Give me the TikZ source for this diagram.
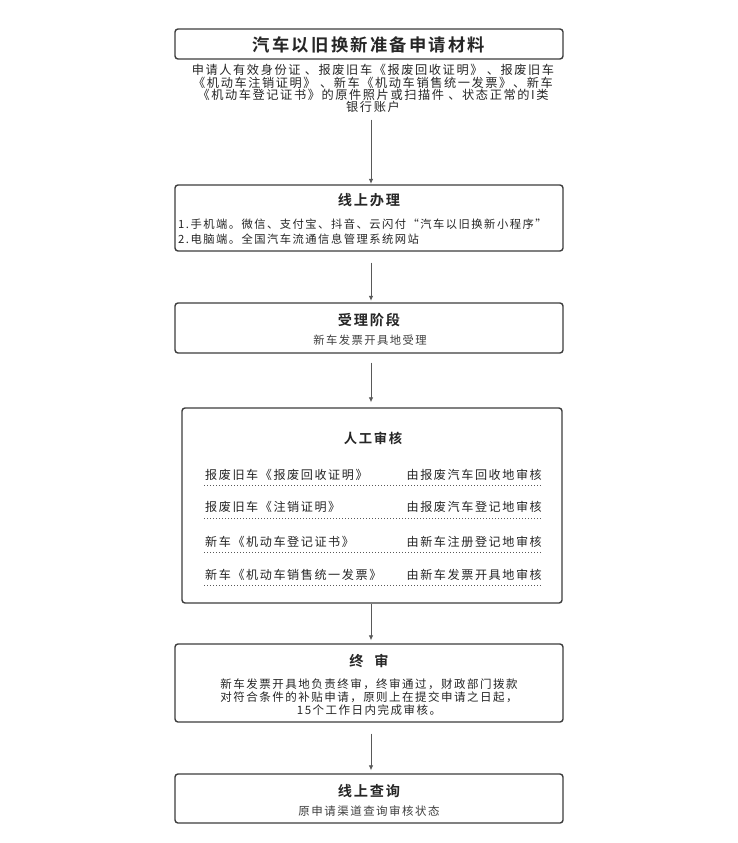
\documentclass[tikz,border=0pt]{standalone}
\usepackage{fontspec}
\setmainfont{Noto Sans CJK SC}[LetterSpace=13, BoldFont={Noto Sans CJK SC Bold}]
\usepackage{tikz}
\usetikzlibrary{arrows.meta}
\definecolor{edge}{HTML}{3D3D3D}
\definecolor{ink}{HTML}{262626}
\definecolor{soft}{HTML}{404040}
\definecolor{wire}{HTML}{595959}
\newcommand\fsz[2]{\fontsize{#1}{#2}\selectfont}

\begin{document}
\begin{tikzpicture}[x=1pt, y=-1pt, every node/.style={inner sep=0pt, text=ink}, >={Latex[length=5pt, width=4.5pt]},
	stage/.style={draw=edge, line width=1.4pt, rounded corners=3pt, minimum width=388pt},
	head/.style={font=\bfseries\fsz{14.2}{15}},
	flow/.style={->, wire, line width=0.8pt},
	dots/.style={wire, line width=0.9pt, dash pattern=on 1.2pt off 1.8pt}]
	\fill[white] (0,0) rectangle (737,843);
	\useasboundingbox (0,0) rectangle (737,843);
	\coordinate (spine) at (371,0);
	\node[stage, minimum height=30pt] (prep) at (369,44) {};
	\node[stage, minimum height=66pt] (online) at (369,218) {};
	\node[stage, minimum height=50pt] (accept) at (369,328) {};
	\node[stage, minimum width=380pt, minimum height=195pt] (manual) at (372,505.5) {};
	\node[stage, minimum height=78pt] (final) at (369,683) {};
	\node[stage, minimum height=49pt] (query) at (369,798.5) {};
	\node[font=\bfseries\fsz{17.3}{18}] (prept) at (369,45) {汽车以旧换新准备申请材料};
	\node[font=\fsz{12.2}{12.4}, align=center] (needs) at (373,88.7) {申请人有效身份证 、报废旧车《报废回收证明》 、报废旧车\\《机动车注销证明》 、新车《机动车销售统一发票》、新车\\《机动车登记证书》的原件照片或扫描件 、状态正常的I类\\银行账户};
	\node[head] (onlinet) at (369,200) {线上办理};
	\node[font=\fsz{11.3}{14.5}, align=left, anchor=west] (channels) at (178,231.5) {1.手机端。微信、支付宝、抖音、云闪付“汽车以旧换新小程序”\\2.电脑端。全国汽车流通信息管理系统网站};
	\node[head] (acceptt) at (369,320) {受理阶段};
	\node[font=\fsz{11.3}{12}, text=soft] (acceptd) at (370,340) {新车发票开具地受理};
	\node[font=\bfseries\fsz{13.3}{14}] (manualt) at (373,438) {人工审核};
	\node[font=\fsz{12.1}{13}, anchor=west] (row1l) at (205,475) {报废旧车《报废回收证明》};
	\node[font=\fsz{12.1}{13}, anchor=east] (row1r) at (542,475) {由报废汽车回收地审核};
	\node[font=\fsz{12.1}{13}, anchor=west] (row2l) at (205,507) {报废旧车《注销证明》};
	\node[font=\fsz{12.1}{13}, anchor=east] (row2r) at (542,507) {由报废汽车登记地审核};
	\node[font=\fsz{12.1}{13}, anchor=west] (row3l) at (205,542) {新车《机动车登记证书》};
	\node[font=\fsz{12.1}{13}, anchor=east] (row3r) at (542,542) {由新车注册登记地审核};
	\node[font=\fsz{12.1}{13}, anchor=west] (row4l) at (205,575) {新车《机动车销售统一发票》};
	\node[font=\fsz{12.1}{13}, anchor=east] (row4r) at (542,575) {由新车发票开具地审核};
	\draw[dots] (204,485) -- (541,485);
	\draw[dots] (204,518) -- (541,518);
	\draw[dots] (204,552) -- (541,552);
	\draw[dots] (204,585) -- (541,585);
	\node[head] (finalt) at (369,661) {终\hspace{11pt}审};
	\node[font=\fsz{11.5}{13.3}, align=center] (finald) at (369,697) {新车发票开具地负责终审，终审通过，财政部门拨款\\对符合条件的补贴申请，原则上在提交申请之日起，\\15个工作日内完成审核。};
	\node[head] (queryt) at (369,791) {线上查询};
	\node[font=\fsz{11.5}{12}, text=soft] (queryd) at (369,811) {原申请渠道查询审核状态};
	\draw[flow, shorten <=6.5pt, shorten >=0.5pt] (needs.south -| spine) -- (online.north -| spine);
	\draw[flow, shorten <=11pt, shorten >=1.5pt] (online.south -| spine) -- (accept.north -| spine);
	\draw[flow, shorten <=9pt, shorten >=5pt] (accept.south -| spine) -- (manual.north -| spine);
	\draw[flow, shorten >=3pt] (manual.south -| spine) -- (final.north -| spine);
	\draw[flow, shorten <=11pt, shorten >=3pt] (final.south -| spine) -- (query.north -| spine);
\end{tikzpicture}
\end{document}
